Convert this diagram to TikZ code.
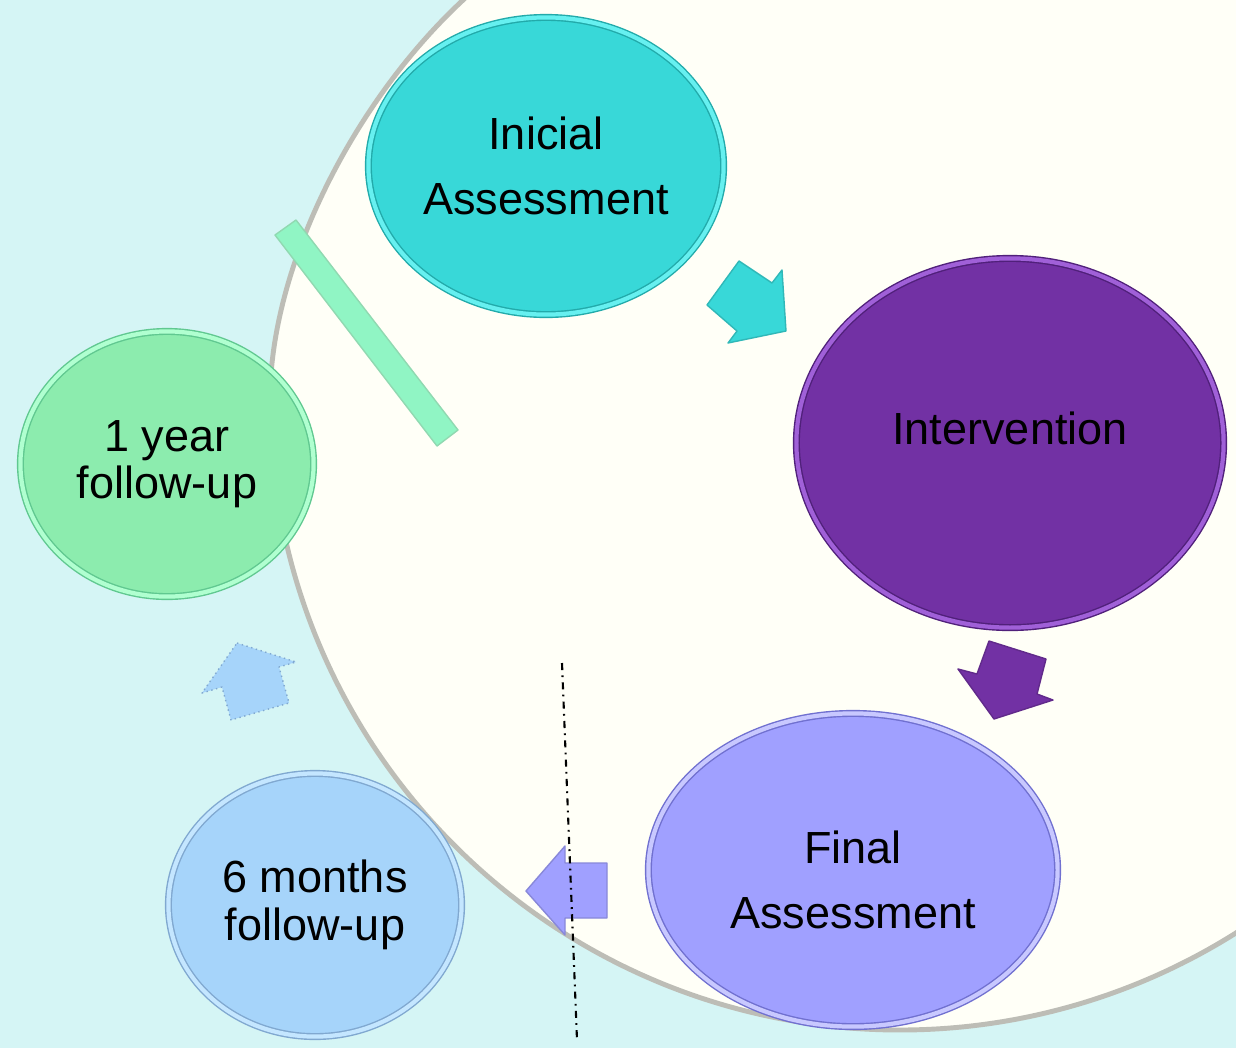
\documentclass[tikz,border=0pt]{standalone}
\usepackage{fontspec}
\setmainfont{Liberation Sans}
\usetikzlibrary{shapes.geometric}
\definecolor{paleaqua}{HTML}{D5F5F5}
\definecolor{cream}{HTML}{FFFFF7}
\definecolor{rimgray}{HTML}{BDBDB6}
\definecolor{tealmain}{HTML}{38D8D8}
\definecolor{tealrim}{HTML}{22AAAA}
\definecolor{teallight}{HTML}{66F0F0}
\definecolor{plummain}{HTML}{7231A4}
\definecolor{plumrim}{HTML}{50207A}
\definecolor{plumlight}{HTML}{A060D8}
\definecolor{lavmain}{HTML}{A0A0FF}
\definecolor{lavrim}{HTML}{7070D0}
\definecolor{lavlight}{HTML}{C8C8FF}
\definecolor{skymain}{HTML}{A6D4FA}
\definecolor{skyrim}{HTML}{80A8D0}
\definecolor{skylight}{HTML}{C4E6FF}
\definecolor{mintmain}{HTML}{8CECAE}
\definecolor{mintrim}{HTML}{60C890}
\definecolor{mintlight}{HTML}{B0FFD0}
\definecolor{barmint}{HTML}{90F5C4}
\tikzset{
    stage/.style n args={3}{ellipse, inner sep=0pt, align=center, text=black, fill=#1, draw=#2, double=#3, double distance=1.2pt, line width=0.4pt, font=\fontsize{12.8}{18.5}\selectfont},
    flow/.style={fill=#1, draw=#1!85!black, line width=0.4pt, line join=round},
    cutline/.style={black, line width=0.6pt, dash pattern=on 2pt off 1.5pt on 0.5pt off 1.5pt}
}

\begin{document}
\begin{tikzpicture}[x=0.01cm, y=-0.01cm]
    \useasboundingbox (0,0) rectangle (1236,1048);
    \clip (0,0) rectangle (1236,1048);
    \fill[paleaqua] (0,0) rectangle (1236,1048);

    % big back circle
    \draw[rimgray, line width=1.4pt, fill=cream] (480,-15) .. controls (362,85) and (270,260) .. (270,400)
        arc[start angle=180, end angle=40, radius=630] -- (1400,-40) -- cycle;

    % arrows of the cycle
    \filldraw[flow=barmint, draw=mintrim!70] (275,235) -- (296,220) -- (458,430) -- (437,446) -- cycle;
    \filldraw[flow=tealmain] (739,261) -- (772,283) -- (782,270) -- (786,331) -- (728,343) -- (737,331) -- (707,305) -- cycle;
    \filldraw[flow=plummain] (989,641) -- (1046,659) -- (1037,694) -- (1053,700) -- (994,719) -- (958,669) -- (977,674) -- cycle;
    \filldraw[flow=lavmain] (607,863) -- (607,918) -- (565,918) -- (565,935) -- (526,891) -- (565,846) -- (565,863) -- cycle;
    \filldraw[flow=skymain, draw=skyrim, densely dotted] (237,643) -- (296,662) -- (279,667) -- (289,703) -- (231,720) -- (222,687) -- (202,693) -- cycle;

    % stages
    \node (ini) [stage={tealmain}{tealrim}{teallight}, minimum width=3.55cm, minimum height=2.97cm] at (546,166) {Inicial\\Assessment};
    \node (inter) [stage={plummain}{plumrim}{plumlight}, minimum width=4.27cm, minimum height=3.69cm, text depth=8.5pt] at (1010,443) {Intervention};
    \node (final) [stage={lavmain}{lavrim}{lavlight}, minimum width=4.09cm, minimum height=3.13cm, text height=33.6pt] at (853,870) {Final\\Assessment};
    \node (six) [stage={skymain}{skyrim}{skylight}, minimum width=2.93cm, minimum height=2.63cm, font=\fontsize{12.8}{13.7}\selectfont] at (315,905) {6 months\\follow-up};
    \node (year) [stage={mintmain}{mintrim}{mintlight}, minimum width=2.93cm, minimum height=2.65cm, font=\fontsize{12.8}{13.4}\selectfont] at (167,464) {1 year\\follow-up};

    \coordinate (cutA) at (562,663);
    \coordinate (cutB) at (577,1040);
    \draw[cutline] (cutA) -- (cutB);
\end{tikzpicture}
\end{document}
